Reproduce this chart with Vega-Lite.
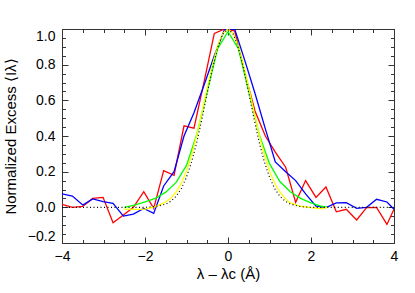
{
  "$schema": "https://vega.github.io/schema/vega-lite/v6.json",
  "width": 332,
  "height": 214,
  "autosize": "none",
  "padding": {"left": 62, "top": 29, "right": 21, "bottom": 50},
  "background": "white",
  "config": {
    "view": {"stroke": "#333", "strokeWidth": 1},
    "axis": {
      "labelFont": "Liberation Sans",
      "titleFont": "Liberation Sans",
      "labelFontSize": 14,
      "titleFontSize": 15,
      "labelColor": "#000",
      "titleColor": "#000",
      "titleFontWeight": "normal",
      "domain": false,
      "tickColor": "#333",
      "grid": false
    }
  },
  "datasets": {
    "obs": [
      {"s": "red", "x": -4.0, "y": 0.017}, {"s": "red", "x": -3.75, "y": 0.0}, {"s": "red", "x": -3.5, "y": 0.005}, {"s": "red", "x": -3.26, "y": 0.05}, {"s": "red", "x": -3.01, "y": 0.056}, {"s": "red", "x": -2.77, "y": -0.086}, {"s": "red", "x": -2.52, "y": -0.043}, {"s": "red", "x": -2.28, "y": 0.0}, {"s": "red", "x": -2.03, "y": 0.088}, {"s": "red", "x": -1.79, "y": -0.006}, {"s": "red", "x": -1.55, "y": 0.206}, {"s": "red", "x": -1.3, "y": 0.18}, {"s": "red", "x": -1.06, "y": 0.457}, {"s": "red", "x": -0.82, "y": 0.444}, {"s": "red", "x": -0.57, "y": 0.71}, {"s": "red", "x": -0.33, "y": 0.975}, {"s": "red", "x": -0.08, "y": 1.0}, {"s": "red", "x": 0.16, "y": 0.99}, {"s": "red", "x": 0.41, "y": 0.75}, {"s": "red", "x": 0.65, "y": 0.54}, {"s": "red", "x": 0.9, "y": 0.4}, {"s": "red", "x": 1.14, "y": 0.31}, {"s": "red", "x": 1.39, "y": 0.225}, {"s": "red", "x": 1.63, "y": 0.028}, {"s": "red", "x": 1.87, "y": 0.15}, {"s": "red", "x": 2.12, "y": 0.056}, {"s": "red", "x": 2.36, "y": 0.114}, {"s": "red", "x": 2.61, "y": -0.025}, {"s": "red", "x": 2.85, "y": -0.011}, {"s": "red", "x": 3.1, "y": -0.071}, {"s": "red", "x": 3.34, "y": -0.002}, {"s": "red", "x": 3.58, "y": 0.0}, {"s": "red", "x": 3.83, "y": -0.096}, {"s": "red", "x": 4.0, "y": -0.011},
      {"s": "blue", "x": -4.0, "y": 0.075}, {"s": "blue", "x": -3.75, "y": 0.063}, {"s": "blue", "x": -3.5, "y": 0.013}, {"s": "blue", "x": -3.26, "y": 0.047}, {"s": "blue", "x": -3.01, "y": 0.032}, {"s": "blue", "x": -2.77, "y": 0.022}, {"s": "blue", "x": -2.52, "y": -0.049}, {"s": "blue", "x": -2.28, "y": -0.038}, {"s": "blue", "x": -2.03, "y": -0.006}, {"s": "blue", "x": -1.79, "y": -0.034}, {"s": "blue", "x": -1.55, "y": 0.12}, {"s": "blue", "x": -1.3, "y": 0.2}, {"s": "blue", "x": -1.06, "y": 0.4}, {"s": "blue", "x": -0.82, "y": 0.53}, {"s": "blue", "x": -0.57, "y": 0.69}, {"s": "blue", "x": -0.33, "y": 0.85}, {"s": "blue", "x": -0.08, "y": 1.0}, {"s": "blue", "x": 0.16, "y": 1.0}, {"s": "blue", "x": 0.41, "y": 0.82}, {"s": "blue", "x": 0.65, "y": 0.64}, {"s": "blue", "x": 0.9, "y": 0.44}, {"s": "blue", "x": 1.14, "y": 0.255}, {"s": "blue", "x": 1.39, "y": 0.2}, {"s": "blue", "x": 1.63, "y": 0.15}, {"s": "blue", "x": 1.87, "y": 0.075}, {"s": "blue", "x": 2.12, "y": 0.007}, {"s": "blue", "x": 2.36, "y": -0.002}, {"s": "blue", "x": 2.61, "y": 0.025}, {"s": "blue", "x": 2.85, "y": 0.026}, {"s": "blue", "x": 3.1, "y": -0.006}, {"s": "blue", "x": 3.34, "y": 0.0}, {"s": "blue", "x": 3.58, "y": 0.045}, {"s": "blue", "x": 3.83, "y": 0.03}, {"s": "blue", "x": 4.0, "y": -0.011},
      {"s": "green", "x": -2.5, "y": 0.0}, {"s": "green", "x": -2.25, "y": 0.012}, {"s": "green", "x": -2.0, "y": 0.03}, {"s": "green", "x": -1.75, "y": 0.05}, {"s": "green", "x": -1.5, "y": 0.085}, {"s": "green", "x": -1.25, "y": 0.14}, {"s": "green", "x": -1.0, "y": 0.235}, {"s": "green", "x": -0.75, "y": 0.41}, {"s": "green", "x": -0.5, "y": 0.65}, {"s": "green", "x": -0.25, "y": 0.89}, {"s": "green", "x": 0.0, "y": 0.985}, {"s": "green", "x": 0.25, "y": 0.89}, {"s": "green", "x": 0.5, "y": 0.65}, {"s": "green", "x": 0.75, "y": 0.41}, {"s": "green", "x": 1.0, "y": 0.245}, {"s": "green", "x": 1.25, "y": 0.145}, {"s": "green", "x": 1.5, "y": 0.087}, {"s": "green", "x": 1.75, "y": 0.05}, {"s": "green", "x": 2.0, "y": 0.025}, {"s": "green", "x": 2.25, "y": 0.006}, {"s": "green", "x": 2.4, "y": 0.0},
      {"s": "yellow", "x": -2.5, "y": -0.01}, {"s": "yellow", "x": -2.25, "y": -0.012}, {"s": "yellow", "x": -2.0, "y": -0.01}, {"s": "yellow", "x": -1.75, "y": 0.004}, {"s": "yellow", "x": -1.5, "y": 0.03}, {"s": "yellow", "x": -1.375, "y": 0.052}, {"s": "yellow", "x": -1.25, "y": 0.086}, {"s": "yellow", "x": -1.125, "y": 0.135}, {"s": "yellow", "x": -1.0, "y": 0.203}, {"s": "yellow", "x": -0.875, "y": 0.295}, {"s": "yellow", "x": -0.75, "y": 0.408}, {"s": "yellow", "x": -0.625, "y": 0.536}, {"s": "yellow", "x": -0.5, "y": 0.671}, {"s": "yellow", "x": -0.375, "y": 0.799}, {"s": "yellow", "x": -0.25, "y": 0.905}, {"s": "yellow", "x": -0.125, "y": 0.975}, {"s": "yellow", "x": 0.0, "y": 1.0}, {"s": "yellow", "x": 0.125, "y": 0.975}, {"s": "yellow", "x": 0.25, "y": 0.905}, {"s": "yellow", "x": 0.375, "y": 0.799}, {"s": "yellow", "x": 0.5, "y": 0.671}, {"s": "yellow", "x": 0.625, "y": 0.536}, {"s": "yellow", "x": 0.75, "y": 0.408}, {"s": "yellow", "x": 0.875, "y": 0.295}, {"s": "yellow", "x": 1.0, "y": 0.203}, {"s": "yellow", "x": 1.125, "y": 0.135}, {"s": "yellow", "x": 1.25, "y": 0.086}, {"s": "yellow", "x": 1.375, "y": 0.05}, {"s": "yellow", "x": 1.5, "y": 0.025}, {"s": "yellow", "x": 1.75, "y": 0.006}, {"s": "yellow", "x": 2.0, "y": -0.002}, {"s": "yellow", "x": 2.25, "y": -0.008}, {"s": "yellow", "x": 2.4, "y": 0.0},
      {"s": "black", "x": -4.0, "y": 0.0}, {"s": "black", "x": -2.0, "y": 0.0}, {"s": "black", "x": -1.75, "y": 0.004}, {"s": "black", "x": -1.5, "y": 0.018}, {"s": "black", "x": -1.375, "y": 0.035}, {"s": "black", "x": -1.25, "y": 0.062}, {"s": "black", "x": -1.125, "y": 0.105}, {"s": "black", "x": -1.0, "y": 0.169}, {"s": "black", "x": -0.875, "y": 0.256}, {"s": "black", "x": -0.75, "y": 0.367}, {"s": "black", "x": -0.625, "y": 0.499}, {"s": "black", "x": -0.5, "y": 0.641}, {"s": "black", "x": -0.375, "y": 0.779}, {"s": "black", "x": -0.25, "y": 0.895}, {"s": "black", "x": -0.125, "y": 0.973}, {"s": "black", "x": 0.0, "y": 1.0}, {"s": "black", "x": 0.125, "y": 0.973}, {"s": "black", "x": 0.25, "y": 0.895}, {"s": "black", "x": 0.375, "y": 0.779}, {"s": "black", "x": 0.5, "y": 0.641}, {"s": "black", "x": 0.625, "y": 0.499}, {"s": "black", "x": 0.75, "y": 0.367}, {"s": "black", "x": 0.875, "y": 0.256}, {"s": "black", "x": 1.0, "y": 0.169}, {"s": "black", "x": 1.125, "y": 0.105}, {"s": "black", "x": 1.25, "y": 0.062}, {"s": "black", "x": 1.375, "y": 0.035}, {"s": "black", "x": 1.5, "y": 0.018}, {"s": "black", "x": 1.75, "y": 0.004}, {"s": "black", "x": 2.0, "y": 0.0}, {"s": "black", "x": 4.0, "y": 0.0}
    ]
  },
  "data": {"name": "obs"},
  "layer": [
    {
      "mark": {"type": "line", "opacity": 0},
      "encoding": {
        "x": {"field": "x", "type": "quantitative", "scale": {"domain": [-4, 4], "nice": false, "zero": false},
          "axis": {"orient": "bottom", "values": [-4, -2, 0, 2, 4], "format": "d", "tickSize": -6, "labelPadding": 12, "labelFlush": false, "title": "λ – λc (Å)", "titlePadding": 3}},
        "y": {"field": "y", "type": "quantitative", "scale": {"domain": [-0.2, 1.0], "nice": false, "zero": false},
          "axis": {"orient": "left", "values": [-0.2, 0, 0.2, 0.4, 0.6, 0.8, 1.0], "format": ".1f", "tickSize": -6, "labelPadding": 13, "labelFlush": true, "title": "Normalized Excess ⟨Iλ⟩", "titlePadding": 9}}
      }
    },
    {
      "mark": {"type": "line", "opacity": 0},
      "encoding": {
        "x": {"field": "x", "type": "quantitative", "axis": {"orient": "bottom", "values": [-3.5, -3, -2.5, -1.5, -1, -0.5, 0.5, 1, 1.5, 2.5, 3, 3.5], "tickSize": -3.5, "labels": false, "title": null}},
        "y": {"field": "y", "type": "quantitative", "axis": {"orient": "left", "values": [-0.15, -0.1, -0.05, 0.05, 0.1, 0.15, 0.25, 0.3, 0.35, 0.45, 0.5, 0.55, 0.65, 0.7, 0.75, 0.85, 0.9, 0.95], "tickSize": -3.5, "labels": false, "title": null}}
      }
    },
    {
      "mark": {"type": "line", "opacity": 0},
      "encoding": {
        "x": {"field": "x", "type": "quantitative", "axis": {"orient": "top", "values": [-4, -2, 0, 2, 4], "tickSize": -6, "labels": false, "title": null}},
        "y": {"field": "y", "type": "quantitative", "axis": {"orient": "right", "values": [-0.2, 0, 0.2, 0.4, 0.6, 0.8, 1.0], "tickSize": -6, "labels": false, "title": null}}
      }
    },
    {
      "mark": {"type": "line", "opacity": 0},
      "encoding": {
        "x": {"field": "x", "type": "quantitative", "axis": {"orient": "top", "values": [-3.5, -3, -2.5, -1.5, -1, -0.5, 0.5, 1, 1.5, 2.5, 3, 3.5], "tickSize": -3.5, "labels": false, "title": null}},
        "y": {"field": "y", "type": "quantitative", "axis": {"orient": "right", "values": [-0.15, -0.1, -0.05, 0.05, 0.1, 0.15, 0.25, 0.3, 0.35, 0.45, 0.5, 0.55, 0.65, 0.7, 0.75, 0.85, 0.9, 0.95], "tickSize": -3.5, "labels": false, "title": null}}
      }
    },
    {
      "transform": [{"filter": "datum.s === 'red'"}],
      "mark": {"type": "line", "color": "#ff0000", "strokeWidth": 1.3, "clip": true},
      "encoding": {"x": {"field": "x", "type": "quantitative", "axis": null}, "y": {"field": "y", "type": "quantitative", "axis": null}}
    },
    {
      "transform": [{"filter": "datum.s === 'blue'"}],
      "mark": {"type": "line", "color": "#0000ff", "strokeWidth": 1.3, "clip": true},
      "encoding": {"x": {"field": "x", "type": "quantitative", "axis": null}, "y": {"field": "y", "type": "quantitative", "axis": null}}
    },
    {
      "transform": [{"filter": "datum.s === 'green'"}],
      "mark": {"type": "line", "color": "#00ff00", "strokeWidth": 1.3, "clip": true},
      "encoding": {"x": {"field": "x", "type": "quantitative", "axis": null}, "y": {"field": "y", "type": "quantitative", "axis": null}}
    },
    {
      "transform": [{"filter": "datum.s === 'yellow'"}],
      "mark": {"type": "line", "color": "#ffff00", "strokeWidth": 1.3, "clip": true},
      "encoding": {"x": {"field": "x", "type": "quantitative", "axis": null}, "y": {"field": "y", "type": "quantitative", "axis": null}}
    },
    {
      "transform": [{"filter": "datum.s === 'black'"}],
      "mark": {"type": "line", "color": "#000000", "strokeWidth": 1.2, "strokeDash": [1, 2.5], "clip": true},
      "encoding": {"x": {"field": "x", "type": "quantitative", "axis": null}, "y": {"field": "y", "type": "quantitative", "axis": null}}
    }
  ],
  "resolve": {"axis": {"x": "independent", "y": "independent"}}
}
